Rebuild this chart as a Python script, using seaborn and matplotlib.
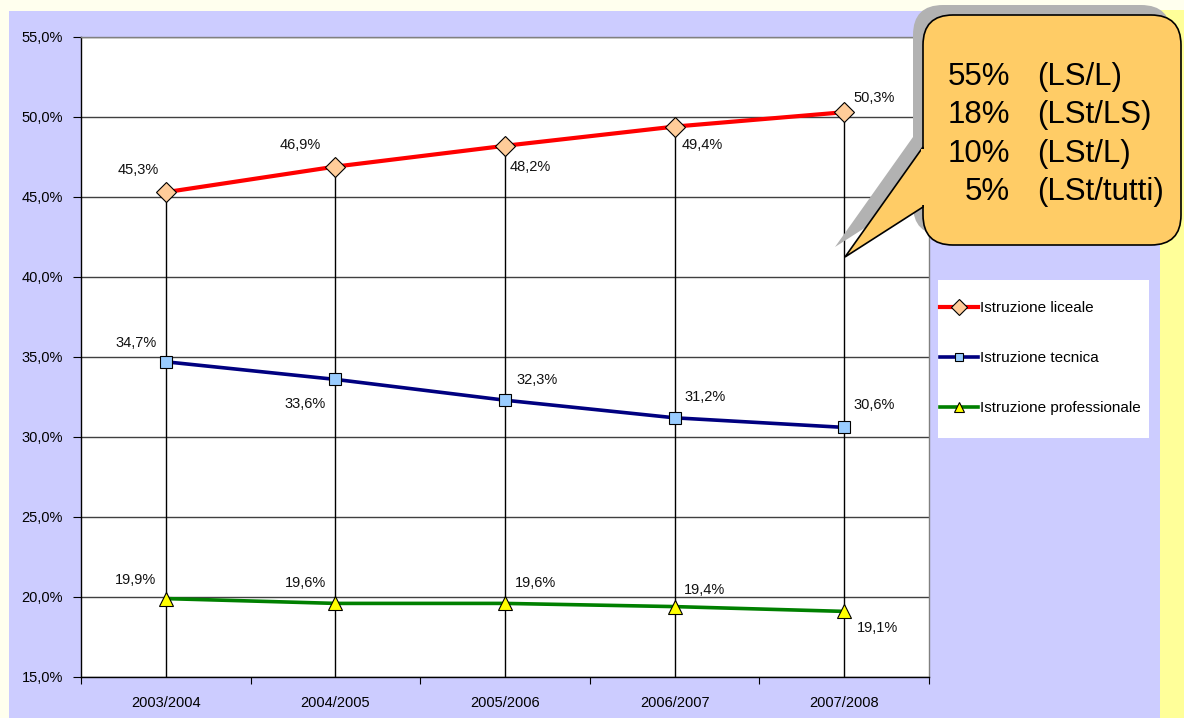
import matplotlib
matplotlib.use("Agg")
import matplotlib.pyplot as plt
import seaborn as sns
import pandas as pd
from matplotlib.transforms import Affine2D
from matplotlib.patches import Rectangle, FancyBboxPatch, Polygon
from matplotlib.lines import Line2D

# ---- data ----
years = ["2003/2004", "2004/2005", "2005/2006", "2006/2007", "2007/2008"]
liceale = [45.3, 46.9, 48.2, 49.4, 50.3]
tecnica = [34.7, 33.6, 32.3, 31.2, 30.6]
professionale = [19.9, 19.6, 19.6, 19.4, 19.1]
series_names = ["Istruzione liceale", "Istruzione tecnica", "Istruzione professionale"]
y_ticks = [15, 20, 25, 30, 35, 40, 45, 50, 55]
callout_pct = ["55%", "18%", "10%", "5%"]
callout_ratio = ["(LS/L)", "(LSt/LS)", "(LSt/L)", "(LSt/tutti)"]

# label offsets (pixels) for the value labels of each series
label_offsets = [
    [(-28, 22), (-35, 22), (25, -21), (28, -18), (30, 14)],
    [(-30, 19), (-30, -25), (32, 20), (30, 21), (30, 22)],
    [(-30, 19), (-30, 20), (30, 20), (30, 17), (33, -17)],
]

W, H = 1184, 718
fig = plt.figure(figsize=(W / 100, H / 100), dpi=100)
plt.rcParams["font.family"] = ["Liberation Sans", "DejaVu Sans"]
fig.patch.set_facecolor("#FFFFEE")
px = Affine2D().scale(1 / W, -1 / H).translate(0, 1) + fig.transFigure

# backgrounds
fig.patches.append(Rectangle((1160, 10), 24, 708, transform=px, facecolor="#FFFF99",
                             edgecolor="none", zorder=-10))
fig.patches.append(Rectangle((9, 11), 1151, 707, transform=px, facecolor="#CCCCFF",
                             edgecolor="none", zorder=-9))
fig.patches.append(Rectangle((938, 280), 211, 158, transform=px, facecolor="white",
                             edgecolor="none", zorder=-8))

ax = fig.add_axes([81 / W, 1 - 677 / H, (929 - 81) / W, (677 - 37) / H])
ax.set_facecolor("white")

df = pd.DataFrame({"anno": years * 3,
                   "valore": liceale + tecnica + professionale,
                   "serie": sum([[n] * len(years) for n in series_names], [])})

colors = ["#FF0000", "#000080", "#008000"]
markers = ["D", "s", "^"]
mfc = ["#FFCC99", "#99CCFF", "#FFFF00"]
msize = [10.5, 8, 10.5]
lws = [3, 2.6, 2.6]
all_vals = [liceale, tecnica, professionale]

# drop lines from the top series down to the axis
ax.vlines(range(len(years)), 15, liceale, color="black", lw=1, zorder=2)

for i, name in enumerate(series_names):
    sub = df[df["serie"] == name]
    sns.lineplot(data=sub, x="anno", y="valore", ax=ax, color=colors[i], lw=lws[i],
                 marker=markers[i], markersize=msize[i], markerfacecolor=mfc[i],
                 markeredgecolor="black", markeredgewidth=0.8, zorder=3 + i, sort=False)
    for j, v in enumerate(all_vals[i]):
        ax.annotate(f"{v:.1f}%".replace(".", ","), (j, v), xytext=label_offsets[i][j],
                    textcoords="offset pixels", ha="center", va="center",
                    fontsize=10.5, color="#111111", zorder=8)

ax.set_xlim(-0.5, len(years) - 0.5)
ax.set_ylim(15, 55)
ax.set_yticks(y_ticks)
ax.set_yticklabels([f"{t:.1f}%".replace(".", ",") for t in y_ticks], fontsize=10.5)
ax.yaxis.grid(True, color="#404040", lw=1)
ax.set_axisbelow(True)
ax.set_xticks([k - 0.5 for k in range(len(years) + 1)])
ax.set_xticklabels([])
ax.set_xticks(range(len(years)), minor=True)
ax.set_xticklabels(years, minor=True, fontsize=10.5)
ax.tick_params(axis="x", which="minor", length=0, pad=14)
ax.tick_params(axis="x", which="major", length=5, direction="out", color="black")
ax.tick_params(axis="y", length=6, direction="out", pad=7, color="black")
ax.set_xlabel("")
ax.set_ylabel("")
for s in ["top", "right"]:
    ax.spines[s].set_color("#808080")
for s in ["left", "bottom"]:
    ax.spines[s].set_color("black")
for s in ax.spines.values():
    s.set_linewidth(1)
if ax.get_legend():
    ax.get_legend().remove()

# legend
handles = [Line2D([], [], color=colors[i], lw=lws[i], marker=markers[i],
                  markersize=msize[i] * 0.75, markerfacecolor=mfc[i],
                  markeredgecolor="black", markeredgewidth=0.8) for i in range(3)]
fig.legend(handles, series_names, loc="center left", bbox_to_anchor=(940, 358),
           bbox_transform=px, frameon=False, fontsize=11, handlelength=2.5,
           handletextpad=0.15, labelspacing=2.35, borderpad=0, borderaxespad=0)

# callout with shadow
def callout(dx, dy, face, edge, z):
    box = FancyBboxPatch((923 + dx, 15 + dy), 258, 230, boxstyle="round,pad=0,rounding_size=30",
                         transform=px, facecolor=face, edgecolor=edge, lw=1.2, zorder=z)
    tail = Polygon([(845 + dx, 257 + dy), (923 + dx, 147 + dy), (923 + dx, 207 + dy)],
                   closed=True, transform=px, facecolor=face, edgecolor=edge, lw=1.2, zorder=z)
    fig.patches.extend([box, tail])
    if edge != "none":
        fig.patches.append(Rectangle((921 + dx, 149 + dy), 6, 56, transform=px,
                                     facecolor=face, edgecolor="none", zorder=z + 0.1))

callout(-10, -10, "#B2B2B2", "none", 10)
callout(0, 0, "#FFCC66", "black", 11)
for k, (p, r) in enumerate(zip(callout_pct, callout_ratio)):
    yb = 85 + k * 38.3
    fig.text(1010, yb, p, transform=px, ha="right", va="baseline", fontsize=22.5, zorder=12)
    fig.text(1037, yb, r, transform=px, ha="left", va="baseline", fontsize=22.5, zorder=12)

fig.savefig("out.png", dpi=100, facecolor=fig.get_facecolor())
